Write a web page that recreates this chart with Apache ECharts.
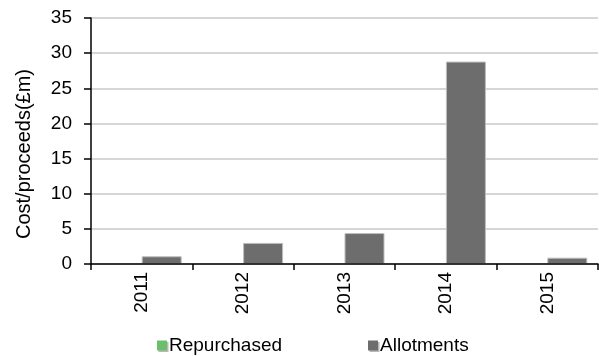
<!DOCTYPE html>
<html>
<head>
<meta charset="utf-8">
<script src="https://cdn.jsdelivr.net/npm/echarts@6/dist/echarts.min.js"></script>
<style>
  html, body { margin: 0; padding: 0; background: #fff; }
  #chart { width: 599px; height: 356px; }
</style>
</head>
<body>
<div id="chart"></div>
<script>
// Share repurchases and allotments by year, £m
const years = ['2011', '2012', '2013', '2014', '2015'];
const repurchased = [0, 0, 0, 0, 0];
const allotments = [1.1, 3.0, 4.4, 28.8, 0.9];
const yTicks = { min: 0, max: 35, step: 5 };

const FONT = '"Liberation Sans", Arial, sans-serif';

const chart = echarts.init(document.getElementById('chart'), null, { renderer: 'canvas' });
chart.setOption({
  animation: false,
  backgroundColor: '#ffffff',
  textStyle: { fontFamily: FONT, color: '#000' },
  grid: { left: 91, right: 1, top: 18, bottom: 92, containLabel: false },
  legend: {
    left: 152,
    top: 331,
    itemWidth: 10,
    itemHeight: 10,
    itemGap: 86,
    icon: 'rect',
    textStyle: { fontFamily: FONT, fontSize: 19, color: '#000', padding: [0, 0, 0, -3] },
    itemStyle: {
      borderWidth: 0,
      shadowColor: '#b8b8b8',
      shadowOffsetX: 1.5,
      shadowOffsetY: 1.5,
      shadowBlur: 0
    },
    data: ['Repurchased', 'Allotments']
  },
  xAxis: {
    type: 'category',
    data: years,
    z: 5,
    axisLine: { lineStyle: { color: '#000', width: 1.5 } },
    axisTick: { show: true, inside: false, length: 6, lineStyle: { color: '#000', width: 1.5 } },
    axisLabel: {
      rotate: 90,
      margin: 8,
      fontSize: 19,
      fontFamily: FONT,
      color: '#000'
    }
  },
  yAxis: {
    type: 'value',
    min: yTicks.min,
    max: yTicks.max,
    interval: yTicks.step,
    name: 'Cost/proceeds(£m)',
    nameLocation: 'middle',
    nameGap: 57,
    nameRotate: 90,
    nameTextStyle: { fontFamily: FONT, fontSize: 20, color: '#000', padding: [0, 26, 0, 0] },
    axisLine: { show: true, lineStyle: { color: '#000', width: 1.5 } },
    axisTick: { show: true, inside: false, length: 7, lineStyle: { color: '#000', width: 1.5 } },
    axisLabel: { margin: 19, fontSize: 19, fontFamily: FONT, color: '#000' },
    splitLine: { show: true, lineStyle: { color: '#c8c8c8', width: 1.5 } }
  },
  series: [
    {
      name: 'Repurchased',
      type: 'bar',
      data: repurchased,
      barWidth: 40,
      barGap: '0%',
      itemStyle: { color: '#6cbf6a' }
    },
    {
      name: 'Allotments',
      type: 'bar',
      data: allotments,
      barWidth: 40,
      barGap: '0%',
      itemStyle: {
        color: '#6d6d6d',
        borderColor: '#bdbdbd',
        borderWidth: 1
      }
    }
  ]
});
</script>
</body>
</html>
